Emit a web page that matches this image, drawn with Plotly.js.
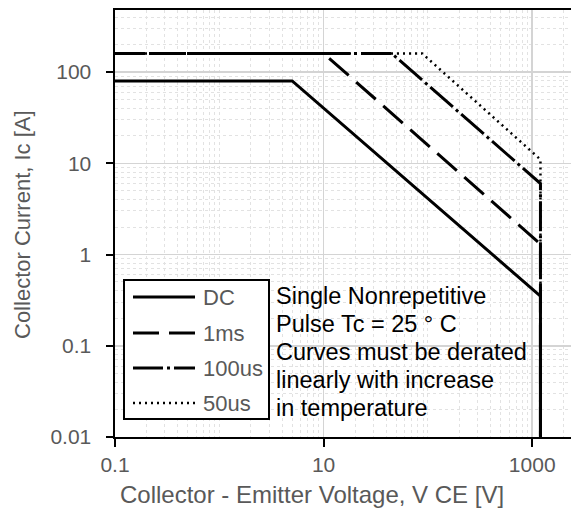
<!DOCTYPE html>
<html>
<head>
<meta charset="utf-8">
<script src="https://cdn.plot.ly/plotly-3.0.1.min.js"></script>
<style>
  html, body { margin: 0; padding: 0; background: #ffffff; }
  #chart { width: 571px; height: 511px; }
</style>
</head>
<body>
<div id="chart"></div>
<script>
// Safe operating area: collector current vs collector-emitter voltage
const seriesNames = ['DC', '1ms', '100us', '50us'];

const vceDC   = [0.1, 5, 1200, 1200];
const icDC    = [80, 80, 0.35, 0.01];

const vce1ms  = [0.1, 10, 1200, 1200];
const ic1ms   = [160, 160, 1.3, 0.01];

const vce100us = [0.1, 45, 1200, 1200];
const ic100us  = [160, 160, 6, 0.01];

const vce50us  = [0.1, 88, 1200, 1200];
const ic50us   = [160, 160, 11, 0.01];

const xTickVals = [0.1, 10, 1000];
const xTickText = ['0.1', '10', '1000'];
const yTickVals = [0.01, 0.1, 1, 10, 100];
const yTickText = ['0.01', '0.1', '1', '10', '100'];

const noteLines = [
  'Single Nonrepetitive',
  'Pulse Tc = 25 \u00b0 C',
  'Curves must be derated',
  'linearly with increase',
  'in temperature'
];

const FONT = 'Arial, "Liberation Sans", sans-serif';
const GREY = '#595959';

// line style for each series (same order as seriesNames)
const styles = [
  { width: 3,   dash: 'solid' },
  { width: 3,   dash: '26px,10px' },
  { width: 3,   dash: '30px,4px,3px,4px' },
  { width: 2.5, dash: '2px,4px' }
];

const xs = [vceDC, vce1ms, vce100us, vce50us];
const ys = [icDC, ic1ms, ic100us, ic50us];

const traces = seriesNames.map((name, i) => ({
  type: 'scatter',
  mode: 'lines',
  name: name,
  x: xs[i],
  y: ys[i],
  line: { color: '#000000', width: styles[i].width, dash: styles[i].dash },
  showlegend: false,
  hoverinfo: 'skip'
}));

// hand-drawn legend box in paper coordinates
const plotL = 115, plotR = 571, plotT = 10, plotB = 437;
const px = v => (v - plotL) / (plotR - plotL);
const py = v => (plotB - v) / (plotB - plotT);

const shapes = [{
  type: 'rect', xref: 'paper', yref: 'paper',
  x0: px(124), x1: px(269), y0: py(419), y1: py(280),
  line: { color: '#000000', width: 2 }, fillcolor: '#ffffff', layer: 'above'
}];
const annotations = [];
const legendRowY = [297, 333, 368, 403];
seriesNames.forEach((name, i) => {
  shapes.push({
    type: 'line', xref: 'paper', yref: 'paper',
    x0: px(133), x1: px(195), y0: py(legendRowY[i]), y1: py(legendRowY[i]),
    line: { color: '#000000', width: styles[i].width, dash: styles[i].dash },
    layer: 'above'
  });
  annotations.push({
    xref: 'paper', yref: 'paper', x: px(201), y: py(legendRowY[i]),
    xanchor: 'left', yanchor: 'middle', showarrow: false,
    text: name, font: { family: FONT, size: 22, color: GREY }
  });
});

const noteRowY = [296, 324, 352, 380, 408];
noteLines.forEach((t, i) => {
  annotations.push({
    xref: 'paper', yref: 'paper', x: px(274), y: py(noteRowY[i]),
    xanchor: 'left', yanchor: 'middle', showarrow: false,
    text: t, font: { family: FONT, size: 23.5, color: '#000000' }
  });
});

// axis titles
annotations.push({
  xref: 'paper', yref: 'paper', x: px(312), y: py(495),
  xanchor: 'center', yanchor: 'middle', showarrow: false,
  text: 'Collector - Emitter Voltage, V CE [V]',
  font: { family: FONT, size: 24, color: GREY }
});
annotations.push({
  xref: 'paper', yref: 'paper', x: px(22), y: py(225),
  xanchor: 'center', yanchor: 'middle', showarrow: false, textangle: -90,
  text: 'Collector Current, Ic [A]',
  font: { family: FONT, size: 22, color: GREY }
});

const layout = {
  width: 571,
  height: 511,
  margin: { l: 115, r: 0, t: 10, b: 74 },
  paper_bgcolor: '#ffffff',
  plot_bgcolor: '#ffffff',
  showlegend: false,
  font: { family: FONT, color: GREY },
  xaxis: {
    type: 'log',
    range: [-1, 3.372],
    tickmode: 'array',
    tickvals: xTickVals,
    ticktext: xTickText,
    tickfont: { family: FONT, size: 21, color: GREY },
    ticks: 'outside', ticklen: 8, tickwidth: 2, tickcolor: '#000000',
    showline: true, linecolor: '#000000', linewidth: 2, mirror: true,
    showgrid: true, gridcolor: '#d4d4d4', gridwidth: 1.5,
    minor: { dtick: 'D1', showgrid: true, gridcolor: '#e2e2e2', gridwidth: 1, griddash: 'dot', ticks: '' },
    zeroline: false,
    fixedrange: true
  },
  yaxis: {
    type: 'log',
    range: [-2, 2.68],
    tickmode: 'array',
    tickvals: yTickVals,
    ticktext: yTickText,
    tickfont: { family: FONT, size: 21, color: GREY },
    ticks: 'outside', ticklen: 7, tickwidth: 2, tickcolor: '#000000',
    ticklabelstandoff: 10,
    showline: true, linecolor: '#000000', linewidth: 2.5, mirror: false,
    showgrid: true, gridcolor: '#d4d4d4', gridwidth: 1.5,
    minor: { dtick: 'D1', showgrid: true, gridcolor: '#e2e2e2', gridwidth: 1, griddash: 'dot', ticks: '' },
    zeroline: false,
    fixedrange: true
  },
  shapes: shapes,
  annotations: annotations
};

Plotly.newPlot('chart', traces, layout, { displayModeBar: false, staticPlot: true });
</script>
</body>
</html>
